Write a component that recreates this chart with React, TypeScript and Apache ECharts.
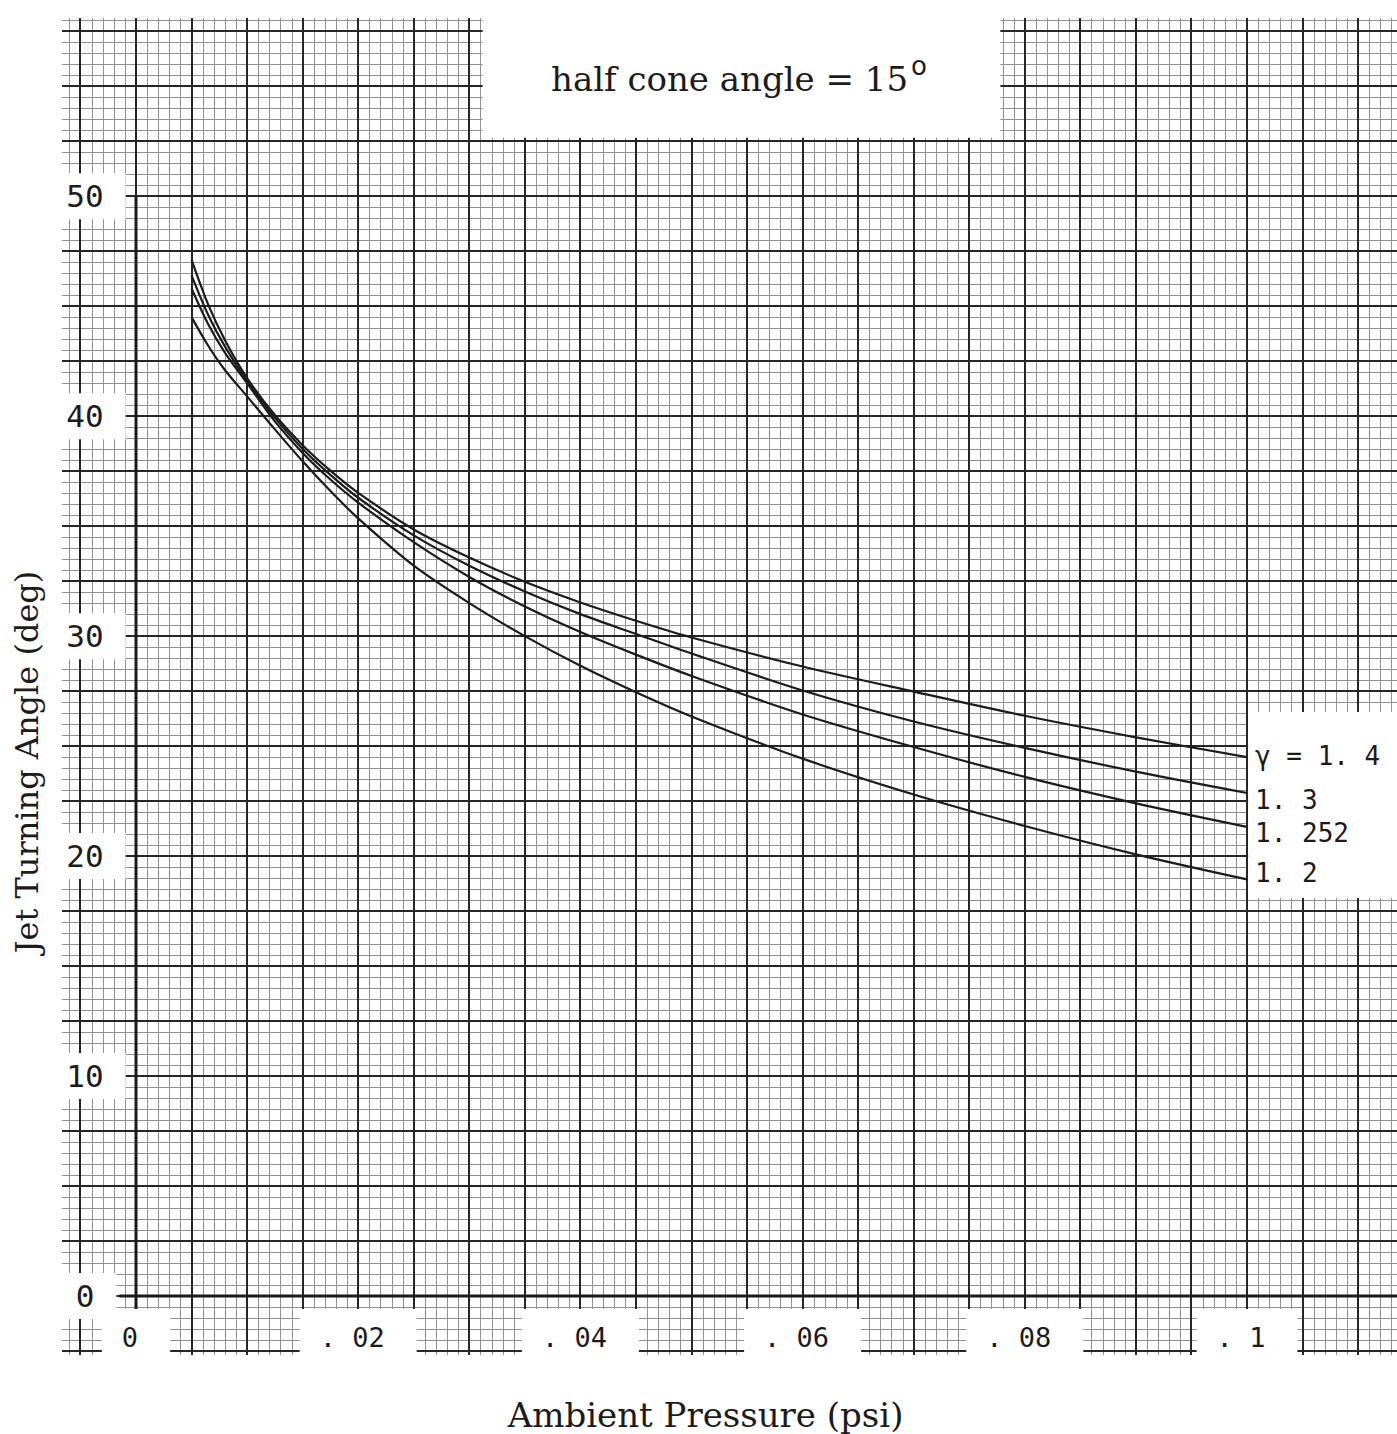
import React, { useEffect, useRef } from "react";
import * as echarts from "echarts";

// ---- data ----
const pressure = [0.005, 0.0065, 0.008, 0.01, 0.0125, 0.015, 0.0175, 0.02, 0.025, 0.03, 0.035, 0.04, 0.045, 0.05, 0.06, 0.07, 0.08, 0.09, 0.1];
const angleG14 = [47.1, 45.07, 43.46, 41.73, 40.05, 38.68, 37.52, 36.51, 34.85, 33.57, 32.47, 31.53, 30.7, 29.94, 28.62, 27.48, 26.38, 25.4, 24.5];
const angleG13 = [46.4, 44.6, 43.17, 41.6, 39.92, 38.51, 37.33, 36.29, 34.58, 33.2, 32.03, 31.0, 30.1, 29.21, 27.53, 26.12, 24.92, 23.84, 22.87];
const angleG1252 = [45.8, 44.18, 42.89, 41.5, 39.76, 38.33, 37.12, 36.07, 34.27, 32.69, 31.35, 30.19, 29.16, 28.19, 26.44, 24.96, 23.6, 22.4, 21.33];
const angleG12 = [44.5, 43.2, 42.1, 40.9, 39.4, 37.95, 36.6, 35.35, 33.2, 31.5, 30.0, 28.65, 27.45, 26.35, 24.43, 22.8, 21.37, 20.08, 18.94];
const seriesNames = ["1.4", "1.3", "1.252", "1.2"];
const seriesLabels = ["\u03b3 = 1. 4", "1. 3", "1. 252", "1. 2"];

const xTickValues = [0, 0.02, 0.04, 0.06, 0.08, 0.1];
const xTickLabels = ["0", ". 02", ". 04", ". 06", ". 08", ". 1"];
const yTickValues = [0, 10, 20, 30, 40, 50];
const yTickLabels = ["0", "10", "20", "30", "40", "50"];

const titleText = "half cone angle = 15";
const xName = "Ambient Pressure (psi)";
const yName = "Jet Turning Angle (deg)";

// ---- graph-paper extent (axis ranges of the sheet) ----
const X_MIN = -0.00666;
const X_MAX = 0.1135;
const Y_MIN = -2.68;
const Y_MAX = 58.1;

// grid line positions of the paper
const minorX: number[] = [];
const majorX: number[] = [];
for (let i = -6; i <= 113; i++) (i % 5 === 0 ? majorX : minorX).push(i / 1000);
const minorY: number[] = [];
const majorY: number[] = [];
for (let i = -5; i <= 116; i++) (i % 5 === 0 ? majorY : minorY).push(i * 0.5);

// white patches on the paper (data coords: x1, y1, x2, y2)
const whiteBoxes = [
  [0.0312, 52.66, 0.0778, 62],
  [0.1001, 18.1, 0.12, 26.55],
];
const endLabelOffsets = [[0, -1], [0, 7], [0, 6], [0, -6]];

const INK = "#1b1b1b";
const MINOR = "#929292";
const MAJOR = "#262626";

function renderPaper(params: any, api: any) {
  const pt = (x: number, y: number) => api.coord([x, y]);
  const left = pt(X_MIN, 0)[0];
  const right = pt(X_MAX, 0)[0];
  const top = pt(0, Y_MAX)[1];
  const bottom = pt(0, Y_MIN)[1];
  const kids: any[] = [];
  const v = (x: number, w: number, c: string, y1 = top, y2 = bottom, snap = 0.5) => {
    const px = Math.round(pt(x, 0)[0]) + snap;
    kids.push({ type: "line", shape: { x1: px, y1, x2: px, y2 }, style: { stroke: c, lineWidth: w } });
  };
  const h = (y: number, w: number, c: string, x1 = left, x2 = right, snap = 0.5) => {
    const py = Math.round(pt(0, y)[1]) + snap;
    kids.push({ type: "line", shape: { x1, y1: py, x2, y2: py }, style: { stroke: c, lineWidth: w } });
  };
  minorX.forEach((x) => v(x, 1, MINOR));
  minorY.forEach((y) => h(y, 1, MINOR));
  majorX.forEach((x) => v(x, 2, MAJOR, top, bottom, 0));
  majorY.forEach((y) => h(y, 2, MAJOR, left, right, 0));
  // main axes of the sheet
  v(0, 3, INK, pt(0, 50)[1], pt(0, -0.6)[1], 0);
  h(0, 3, INK, pt(-0.0015, 0)[0], right, 0);
  whiteBoxes.forEach((b) => {
    const p1 = pt(b[0], b[3]);
    const p2 = pt(b[2], b[1]);
    kids.push({
      type: "rect",
      shape: { x: p1[0], y: p1[1], width: p2[0] - p1[0], height: p2[1] - p1[1] },
      style: { fill: "#ffffff" },
    });
  });
  return { type: "group", children: kids };
}

export default function App() {
  const ref = useRef<HTMLDivElement>(null);
  useEffect(() => {
    if (!ref.current) return;
    const chart = echarts.init(ref.current, null, { renderer: "svg" });
    const curves = [angleG14, angleG13, angleG1252, angleG12];
    const option: any = {
      animation: false,
      backgroundColor: "#ffffff",
      title: {
        text: titleText + "{sup|o}",
        left: 546,
        top: 52,
        z: 20,
        textStyle: {
          fontFamily: "DejaVu Serif",
          fontWeight: "normal",
          fontSize: 34,
          color: INK,
          lineHeight: 44,
          rich: {
            sup: { fontFamily: "DejaVu Sans", fontSize: 26, color: INK, lineHeight: 44, padding: [0, 0, 26, 3] },
          },
        },
      },
      graphic: [
        {
          type: "text",
          x: 27,
          y: 762,
          rotation: Math.PI / 2,
          z: 20,
          style: {
            text: yName,
            fill: INK,
            font: "32px 'DejaVu Serif'",
            textAlign: "center",
            textVerticalAlign: "middle",
          },
        },
      ],
      grid: { left: 62, right: 0, top: 18, bottom: 79, containLabel: false, outerBoundsMode: "none" },
      xAxis: {
        type: "value",
        min: X_MIN,
        max: X_MAX,
        z: 10,
        axisLine: { show: false },
        axisTick: { show: false },
        splitLine: { show: false },
        name: xName,
        nameLocation: "middle",
        nameGap: 43,
        nameTextStyle: { fontFamily: "DejaVu Serif", fontSize: 34, color: INK, padding: [0, 48, 0, 0] },
        axisLabel: {
          customValues: xTickValues,
          inside: true,
          margin: 18,
          verticalAlign: "middle",
          align: "center",
          fontFamily: "DejaVu Sans Mono",
          fontSize: 27,
          lineHeight: 32,
          color: INK,
          backgroundColor: "#ffffff",
          padding: [12, 32, 12, 20],
          formatter: (val: number) => {
            const i = xTickValues.findIndex((t) => Math.abs(t - val) < 1e-9);
            return i >= 0 ? xTickLabels[i] : "";
          },
        },
      },
      yAxis: {
        type: "value",
        min: Y_MIN,
        max: Y_MAX,
        z: 10,
        axisLine: { show: false },
        axisTick: { show: false },
        splitLine: { show: false },
        axisLabel: {
          customValues: yTickValues,
          inside: true,
          margin: 23,
          align: "center",
          verticalAlign: "middle",
          fontFamily: "DejaVu Sans Mono",
          fontSize: 31,
          lineHeight: 34,
          color: INK,
          backgroundColor: "#ffffff",
          padding: [6, 22, 6, 22],
          formatter: (val: number) => {
            const i = yTickValues.findIndex((t) => Math.abs(t - val) < 1e-9);
            return i >= 0 ? yTickLabels[i] : "";
          },
        },
      },
      series: [
        {
          type: "custom",
          z: 1,
          silent: true,
          clip: false,
          data: [[0, 0]],
          renderItem: renderPaper,
        },
        ...curves.map((vals, k) => ({
          type: "line",
          name: seriesNames[k],
          z: 5,
          smooth: 0.3,
          symbol: "none",
          data: pressure.map((p, i) => [p, vals[i]]),
          lineStyle: { color: INK, width: 2.2 },
          endLabel: {
            show: true,
            formatter: () => seriesLabels[k],
            distance: 8,
            offset: endLabelOffsets[k],
            color: INK,
            fontFamily: "DejaVu Sans Mono",
            fontSize: 26,
          },
        })),
      ],
    };
    chart.setOption(option);
    return () => chart.dispose();
  }, []);
  return <div ref={ref} style={{ position: "absolute", left: 0, top: 0, width: 1397, height: 1434 }} />;
}
